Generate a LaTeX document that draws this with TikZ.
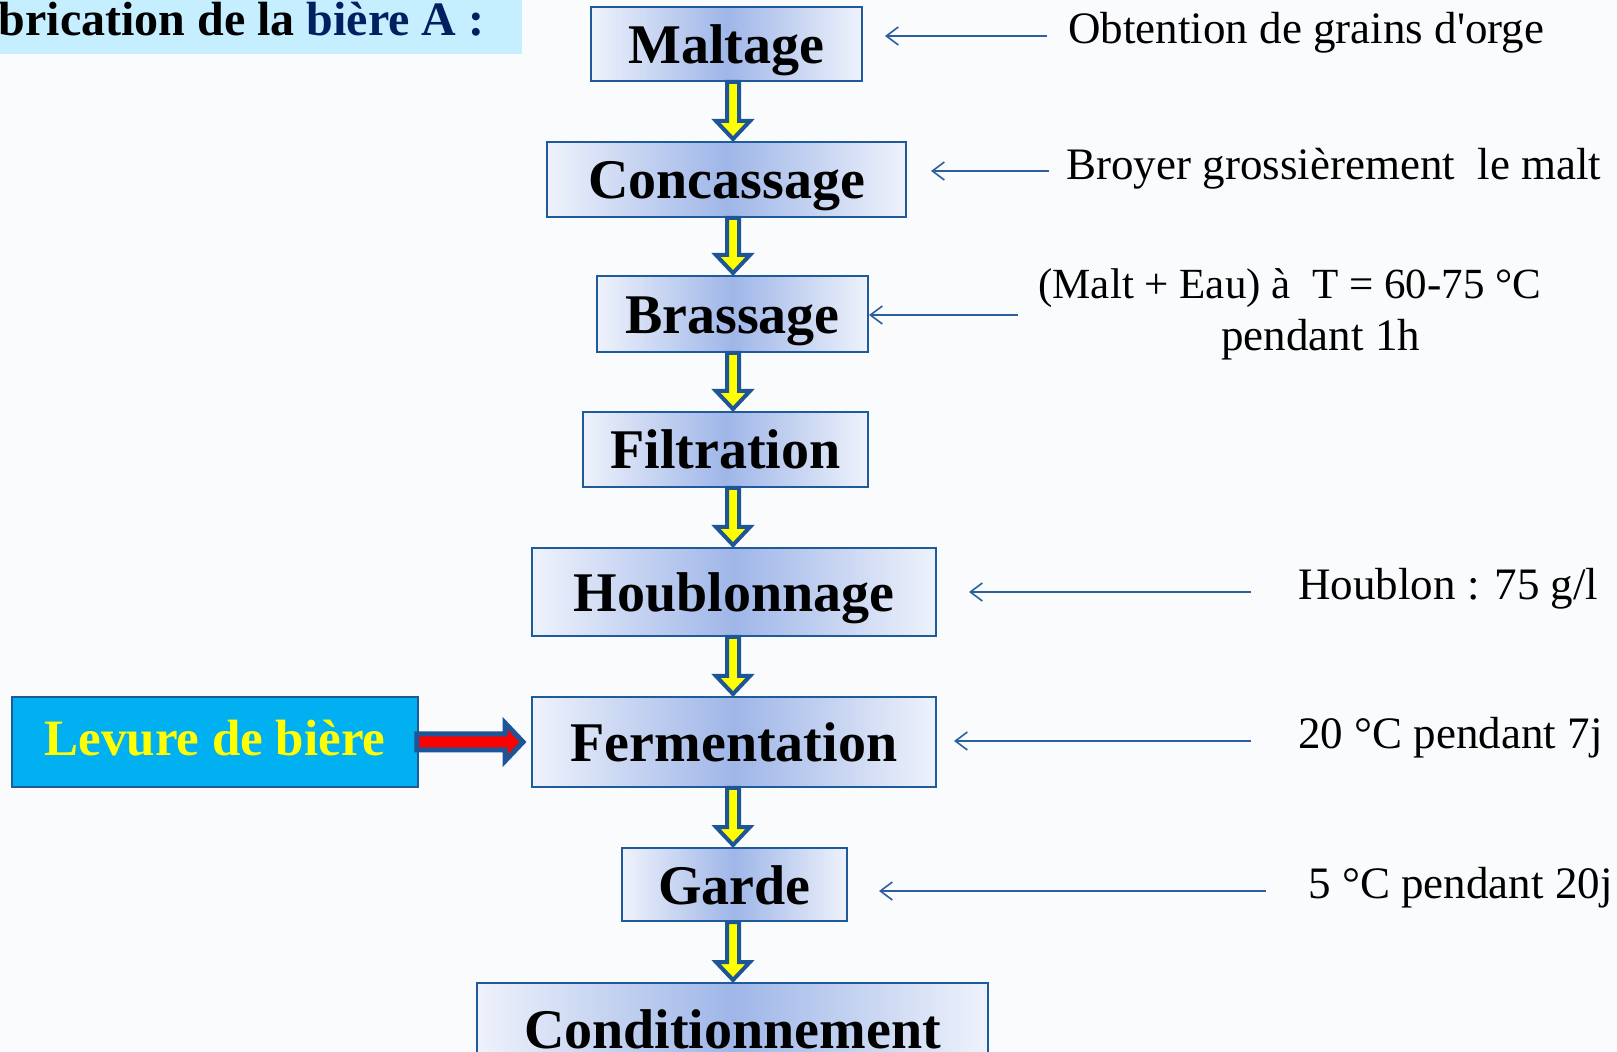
\documentclass[tikz,border=0pt]{standalone}
\usepackage{fontspec}
\setmainfont{Liberation Serif}
\usetikzlibrary{calc,arrows.meta}
\definecolor{bgc}{HTML}{FAFBFC}
\definecolor{boxline}{HTML}{1F5A9B}
\definecolor{boxmid}{HTML}{9FB6E8}
\definecolor{boxedge}{HTML}{EEF2FB}
\definecolor{arrblue}{HTML}{1E5596}
\definecolor{lblue}{HTML}{2C5F9E}
\definecolor{titlebg}{HTML}{C5EEFF}
\definecolor{titleblue}{HTML}{002060}
\definecolor{levbg}{HTML}{00B0F0}
\definecolor{yell}{HTML}{FFFF00}
\definecolor{redarr}{HTML}{FF0000}
\newcommand{\yarrow}[2]{%
  \draw[yarr] ($(#1.south -| ax)+(-6,0)$) -- ($(#2.north -| ax)+(-6,-20)$)
   -- ($(#2.north -| ax)+(-17,-20)$) -- ($(#2.north -| ax)+(0,-2)$)
   -- ($(#2.north -| ax)+(17,-20)$) -- ($(#2.north -| ax)+(6,-20)$)
   -- ($(#1.south -| ax)+(6,0)$) -- cycle;}
\begin{document}
\begin{tikzpicture}[x=0.5pt,y=-0.5pt,
  sz/.style 2 args={minimum width=#1*0.5pt, minimum height=#2*0.5pt},
  stepbox/.style={draw=boxline, line width=1pt, left color=boxedge, right color=boxedge, middle color=boxmid, inner sep=0pt, text height=22.5pt, text depth=3pt, font=\fontsize{28pt}{30pt}\selectfont\bfseries},
  note/.style={anchor=west, inner sep=0pt, font=\fontsize{22.5pt}{26pt}\selectfont},
  lbl/.style={draw=lblue, line width=0.8pt, -{Straight Barb[length=6pt,width=9pt]}},
  yarr/.style={fill=yell, draw=arrblue, line width=2pt, line join=miter},
  rarr/.style={fill=redarr, draw=arrblue, line width=2.5pt, line join=miter}]
\useasboundingbox (0,0) rectangle (1617,1052);
\clip (0,0) rectangle (1617,1052);
\fill[bgc] (0,0) rectangle (1617,1052);
% title
\fill[titlebg] (0,0) rectangle (522,54);
\node[anchor=base east, inner sep=0pt, font=\fontsize{24pt}{28pt}\selectfont\bfseries] (title) at (485,36) {Fabrication de la \textcolor{titleblue}{bière A :}};
% steps
\coordinate (ax) at (733,0);
\node[stepbox, sz={271}{74}] (malt) at (726.5,44) {Maltage};
\node[stepbox, sz={359}{75}] (conc) at (726.5,179.5) {Concassage};
\node[stepbox, sz={271}{76}] (bras) at (732.5,314) {Brassage};
\node[stepbox, sz={285}{75}] (filt) at (725.5,449.5) {Filtration};
\node[stepbox, sz={404}{88}] (houb) at (734,592) {Houblonnage};
\node[stepbox, sz={404}{90}] (ferm) at (734,742) {Fermentation};
\node[stepbox, sz={225}{73}] (gard) at (734.5,884.5) {Garde};
\node[stepbox, sz={511}{92}] (cond) at (732.5,1029) {Conditionnement};
% levure
\node[sz={406}{90}, fill=levbg, draw=boxline, line width=0.75pt, text=yell, inner sep=0pt, text height=14pt, text depth=0pt, font=\fontsize{25.5pt}{28pt}\selectfont\bfseries] (lev) at (215,742) {Levure de bière};
% yellow arrows
\yarrow{malt}{conc}
\yarrow{conc}{bras}
\yarrow{bras}{filt}
\yarrow{filt}{houb}
\yarrow{houb}{ferm}
\yarrow{ferm}{gard}
\yarrow{gard}{cond}
% red arrow
\draw[rarr] ($(lev.east)+(-2,-8)$) -- ($(ferm.west)+(-26,-8)$) -- ($(ferm.west)+(-26,-19)$)
  -- ($(ferm.west)+(-8,0)$) -- ($(ferm.west)+(-26,19)$) -- ($(ferm.west)+(-26,8)$)
  -- ($(lev.east)+(-2,8)$) -- cycle;
% notes
\node[note] (t1) at (1068,32.5) {Obtention de grains d\textquotesingle orge};
\node[note] (t2) at (1066,168.5) {Broyer grossièrement\ \ le malt};
\node[note, font=\fontsize{21.5pt}{26pt}\selectfont] (t3a) at (1038,288.5) {(Malt + Eau) à\ \ T = 60-75 °C};
\node[note] (t3b) at (1221,340) {pendant 1h};
\node[note] (t4) at (1298,588.5) {Houblon : 75 g/l};
\node[note] (t5) at (1298,738) {20 °C pendant 7j};
\node[note] (t6) at (1308,887.5) {5 °C pendant 20j};
% note arrows
\coordinate (a1s) at (1047,36);  \coordinate (a1e) at (885,36);
\coordinate (a2s) at (1049,171); \coordinate (a2e) at (931,171);
\coordinate (a3s) at (1018,315); \coordinate (a3e) at (869,315);
\coordinate (a4s) at (1251,592); \coordinate (a4e) at (969,592);
\coordinate (a5s) at (1251,741); \coordinate (a5e) at (954,741);
\coordinate (a6s) at (1266,891); \coordinate (a6e) at (879,891);
\draw[lbl] (a1s) -- (a1e);
\draw[lbl] (a2s) -- (a2e);
\draw[lbl] (a3s) -- (a3e);
\draw[lbl] (a4s) -- (a4e);
\draw[lbl] (a5s) -- (a5e);
\draw[lbl] (a6s) -- (a6e);
\end{tikzpicture}
\end{document}
